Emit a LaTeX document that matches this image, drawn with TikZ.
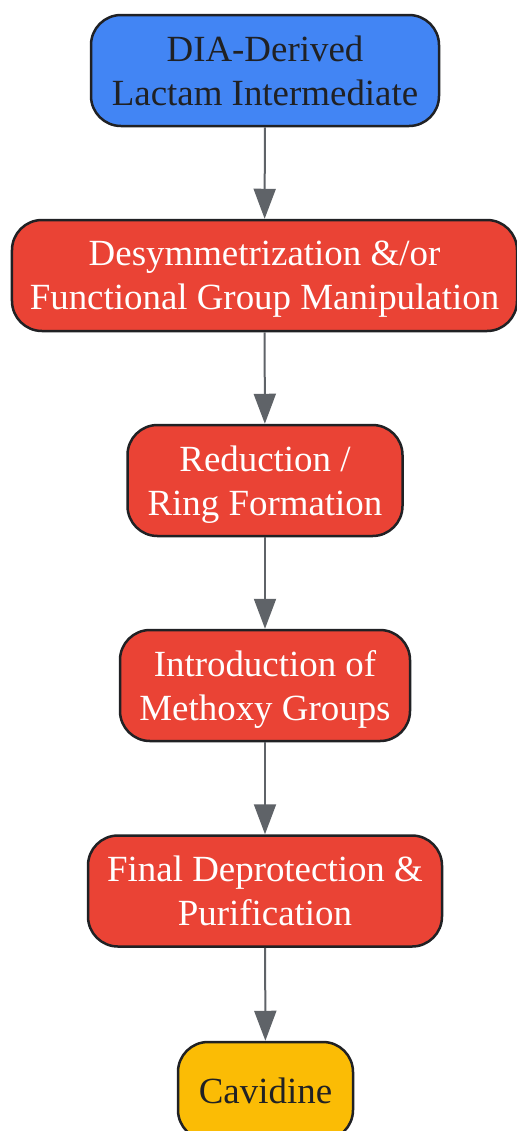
\documentclass[tikz,border=0pt]{standalone}
\usepackage{fontspec}
\setmainfont{Liberation Serif}
\usetikzlibrary{arrows.meta,positioning}
\definecolor{gblue}{HTML}{4285F4}
\definecolor{gred}{HTML}{EA4335}
\definecolor{gyellow}{HTML}{FBBC05}
\definecolor{gdark}{HTML}{202124}
\definecolor{ggray}{HTML}{5F6368}

\begin{document}
\begin{tikzpicture}
\useasboundingbox (0,0) rectangle (10.32,-22.62);
\begin{scope}[every node/.style={rectangle,rounded corners=0.6cm,draw=gdark,line width=0.05cm,align=center,
	minimum height=2.22cm,inner sep=0pt,text depth=0pt,font=\fontsize{21}{25}\selectfont}]
	\node[fill=gblue,text=gdark,minimum width=6.96cm] (lactam) at (5.30,-1.41) {DIA-Derived\\
	Lactam Intermediate};
	\node[fill=gred,text=white,minimum width=10.1cm] (desym) at (5.29,-5.51) {Desymmetrization \&/or\\
	Functional Group Manipulation};
	\node[fill=gred,text=white,minimum width=5.5cm] (ring) at (5.30,-9.61) {Reduction /\\
	Ring Formation};
	\node[fill=gred,text=white,minimum width=5.8cm] (methoxy) at (5.30,-13.71) {Introduction of\\
	Methoxy Groups};
	\node[fill=gred,text=white,minimum width=7.08cm] (deprot) at (5.30,-17.82) {Final Deprotection \&\\
	Purification};
	\node[fill=gyellow,text=gdark,minimum width=3.5cm,minimum height=1.96cm] (cavidine) at (5.31,-21.82) {Cavidine};
\end{scope}

\begin{scope}[every path/.style={draw=ggray,line width=0.04cm,-{Triangle[length=0.6cm,width=0.44cm]}}]
	\draw (lactam) -- (desym);
	\draw (desym) -- (ring);
	\draw (ring) -- (methoxy);
	\draw (methoxy) -- (deprot);
	\draw (deprot) -- (cavidine);
\end{scope}
\end{tikzpicture}
\end{document}
